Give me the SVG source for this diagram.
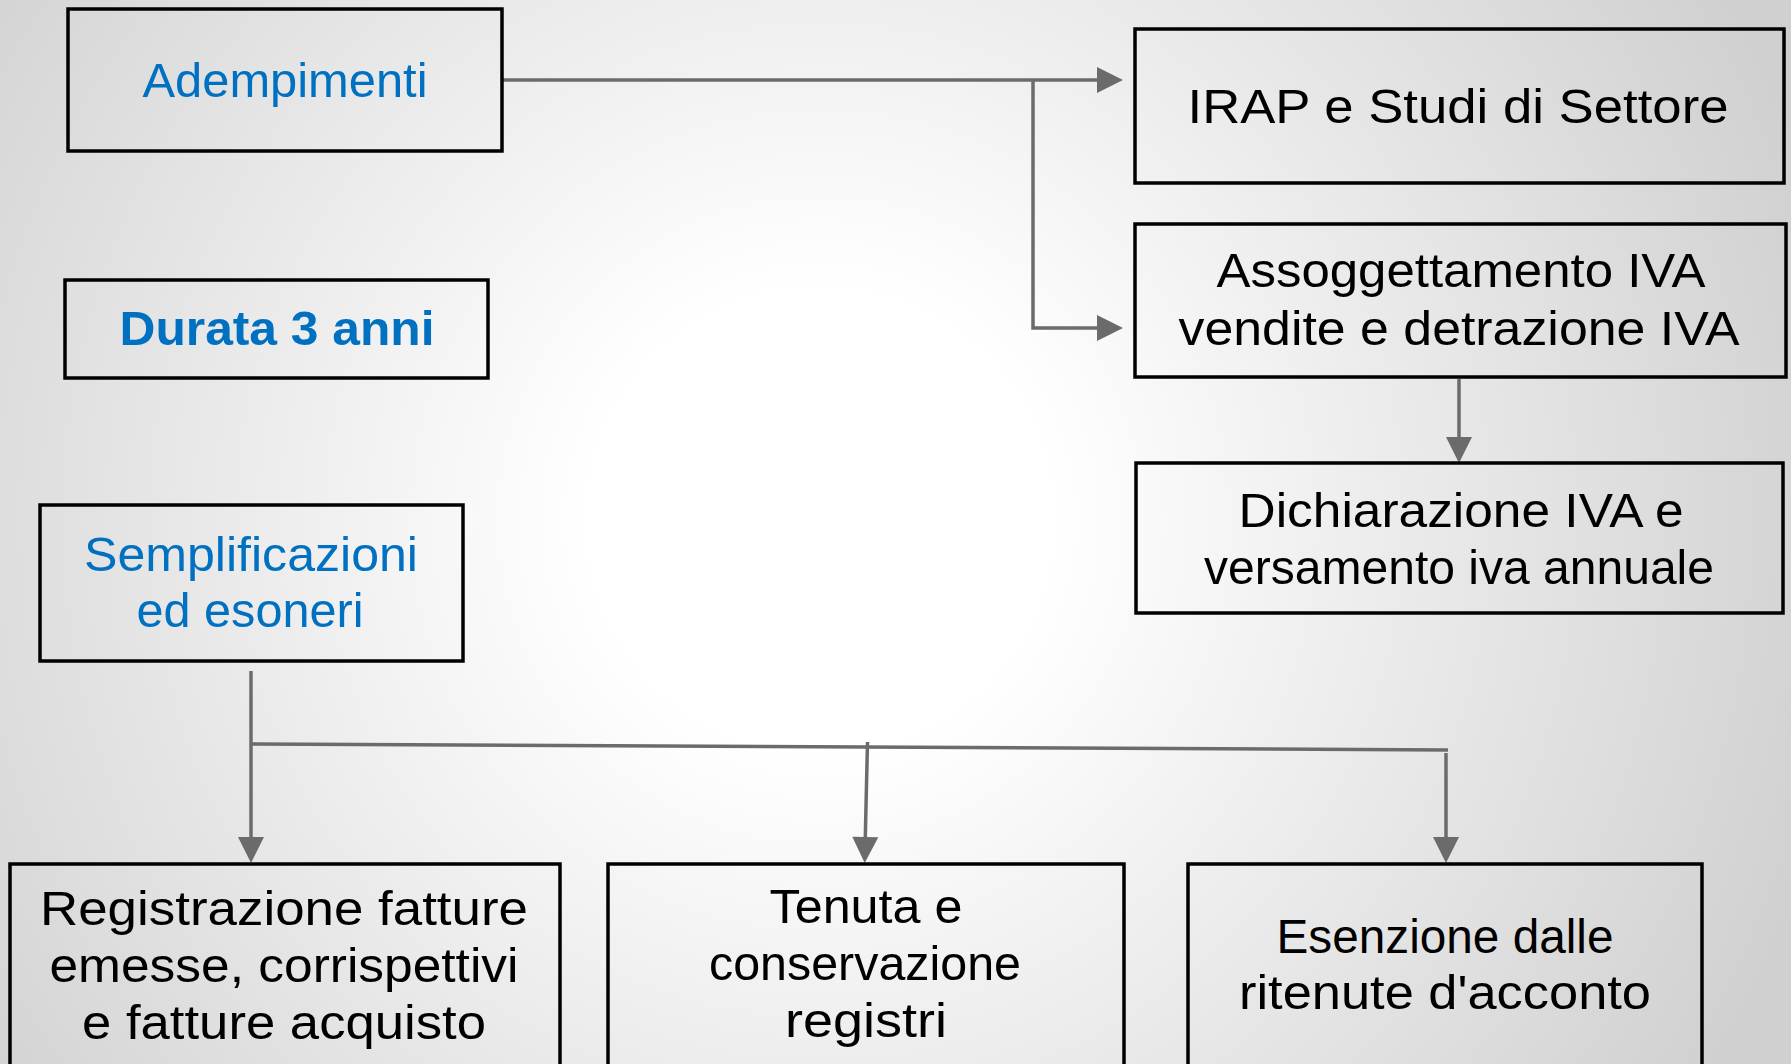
<svg xmlns="http://www.w3.org/2000/svg" width="1791" height="1064" viewBox="0 0 1791 1064">
  <defs>
    <radialGradient id="bg" gradientUnits="userSpaceOnUse" cx="820" cy="520" r="1050">
      <stop offset="0" stop-color="#ffffff"/>
      <stop offset="0.22" stop-color="#ffffff"/>
      <stop offset="1" stop-color="#d0d0d0"/>
    </radialGradient>
    <marker id="arr" markerUnits="userSpaceOnUse" markerWidth="26" markerHeight="27" refX="0" refY="13" orient="auto" overflow="visible">
      <path d="M0,0 L26,13 L0,26 Z" fill="#6b6b6b"/>
    </marker>
    <style>
      .box { fill: none; stroke: #000; stroke-width: 3.5; }
      .t { font-family: "Liberation Sans", Arial, sans-serif; font-size: 48px; text-anchor: middle; fill: #000; }
      .blue { fill: #0070C0; }
      .bold { font-weight: bold; }
      .con { fill: none; stroke: #6b6b6b; stroke-width: 3.5; }
    </style>
  </defs>
  <rect x="0" y="0" width="1791" height="1064" fill="url(#bg)"/>

  <g id="connectors">
    <path class="con" d="M502,80 L1097,80" marker-end="url(#arr)"/>
    <path class="con" d="M1033,80 L1033,328 L1097,328" marker-end="url(#arr)"/>
    <path class="con" d="M1459,379 L1459,437" marker-end="url(#arr)"/>
    <path class="con" d="M251,671 L251,837" marker-end="url(#arr)"/>
    <path class="con" d="M251,744 L1448,750"/>
    <path class="con" d="M867.5,742 L865.3,837" marker-end="url(#arr)"/>
    <path class="con" d="M1446,753 L1446,837" marker-end="url(#arr)"/>
  </g>

  <g id="adempimenti">
    <rect class="box" x="68" y="9" width="434" height="142"/>
    <text class="t blue" x="285" y="97" textLength="285" lengthAdjust="spacingAndGlyphs">Adempimenti</text>
  </g>
  <g id="durata">
    <rect class="box" x="65" y="280" width="423" height="98"/>
    <text class="t blue bold" x="277" y="345" textLength="315" lengthAdjust="spacingAndGlyphs">Durata 3 anni</text>
  </g>
  <g id="semplificazioni">
    <rect class="box" x="40" y="505" width="423" height="156"/>
    <text class="t blue" x="251" y="571" textLength="334" lengthAdjust="spacingAndGlyphs">Semplificazioni</text>
    <text class="t blue" x="250" y="627" textLength="227" lengthAdjust="spacingAndGlyphs">ed esoneri</text>
  </g>
  <g id="irap">
    <rect class="box" x="1135" y="29" width="649" height="154"/>
    <text class="t" x="1458" y="123" textLength="541" lengthAdjust="spacingAndGlyphs">IRAP e Studi di Settore</text>
  </g>
  <g id="assoggettamento">
    <rect class="box" x="1135" y="224" width="651" height="153"/>
    <text class="t" x="1461" y="287" textLength="489" lengthAdjust="spacingAndGlyphs">Assoggettamento IVA</text>
    <text class="t" x="1459" y="345" textLength="561" lengthAdjust="spacingAndGlyphs">vendite e detrazione IVA</text>
  </g>
  <g id="dichiarazione">
    <rect class="box" x="1136" y="463" width="647" height="150"/>
    <text class="t" x="1461" y="527" textLength="445" lengthAdjust="spacingAndGlyphs">Dichiarazione IVA e</text>
    <text class="t" x="1459" y="584" textLength="510" lengthAdjust="spacingAndGlyphs">versamento iva annuale</text>
  </g>
  <g id="registrazione">
    <rect class="box" x="10" y="864" width="550" height="220"/>
    <text class="t" x="284" y="925" textLength="488" lengthAdjust="spacingAndGlyphs">Registrazione fatture</text>
    <text class="t" x="284" y="982" textLength="469" lengthAdjust="spacingAndGlyphs">emesse, corrispettivi</text>
    <text class="t" x="284" y="1039" textLength="404" lengthAdjust="spacingAndGlyphs">e fatture acquisto</text>
  </g>
  <g id="tenuta">
    <rect class="box" x="608" y="864" width="516" height="220"/>
    <text class="t" x="866" y="923" textLength="193" lengthAdjust="spacingAndGlyphs">Tenuta e</text>
    <text class="t" x="865" y="980" textLength="312" lengthAdjust="spacingAndGlyphs">conservazione</text>
    <text class="t" x="866" y="1037" textLength="162" lengthAdjust="spacingAndGlyphs">registri</text>
  </g>
  <g id="esenzione">
    <rect class="box" x="1188" y="864" width="514" height="220"/>
    <text class="t" x="1445" y="953" textLength="337" lengthAdjust="spacingAndGlyphs">Esenzione dalle</text>
    <text class="t" x="1445" y="1009" textLength="412" lengthAdjust="spacingAndGlyphs">ritenute d'acconto</text>
  </g>
</svg>
